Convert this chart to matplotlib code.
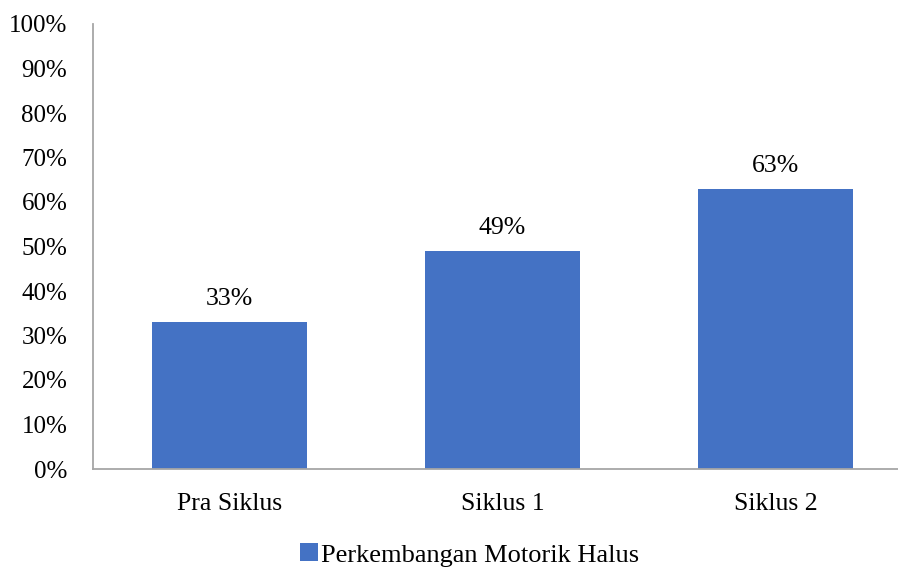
import matplotlib.pyplot as plt

# Data
categories = ["Pra Siklus", "Siklus 1", "Siklus 2"]
values = [33, 49, 63]
series_name = "Perkembangan Motorik Halus"

plt.rcParams['font.family'] = ['Liberation Serif', 'DejaVu Serif']

fig = plt.figure(figsize=(8.98, 5.68), dpi=100)
ax = fig.add_axes([93 / 898, 1 - 469 / 568, 805 / 898, (469 - 24) / 568])

x = range(len(categories))
ax.bar(x, values, width=0.571, color="#4472C4", label=series_name, zorder=2)

for xi, v in zip(x, values):
    ax.text(xi, v + 2.7, f"{v}%", ha="center", va="bottom", fontsize=18.5, color="#000000")

ax.set_xlim(-0.5, -0.5 + 805 / 273)
ax.set_ylim(0, 100)
ax.set_yticks(range(0, 101, 10))
ax.set_yticklabels([f"{t}%" for t in range(0, 101, 10)], fontsize=18)
ax.set_xticks(list(x))
ax.set_xticklabels(categories, fontsize=18.5)
ax.tick_params(axis="y", length=0, pad=18.5)
ax.tick_params(axis="x", length=0, pad=17)

for s in ["top", "right"]:
    ax.spines[s].set_visible(False)
for s in ["left", "bottom"]:
    ax.spines[s].set_color("#A6A6A6")
    ax.spines[s].set_linewidth(1.3)

fig.legend(loc="center", bbox_to_anchor=(470 / 898, 1 - 555 / 568), frameon=False,
           fontsize=19, handlelength=0.65, handleheight=0.65, handletextpad=0.15)

plt.savefig("out.png", dpi=100)
